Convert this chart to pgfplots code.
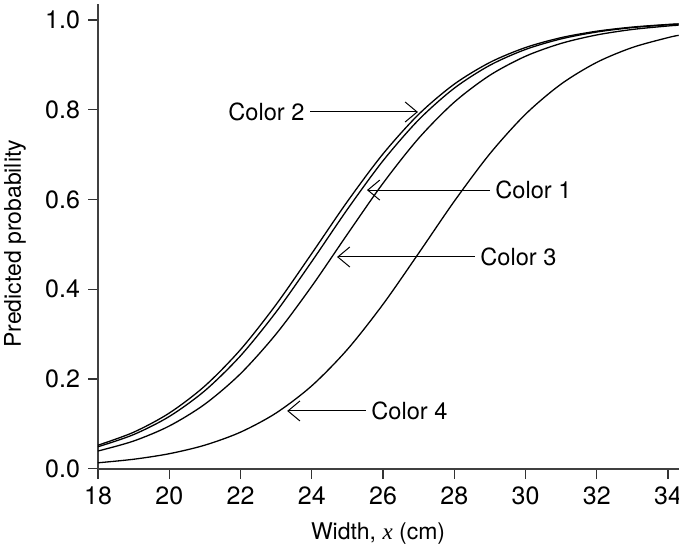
\documentclass[border=0pt]{standalone}
\usepackage{fontspec}
\setmainfont{TeX Gyre Heros}
\newfontfamily\serifit{Liberation Serif}
\usepackage{pgfplots}
\usepackage{pgfplotstable}
\pgfplotsset{compat=1.18}
\usetikzlibrary{arrows.meta}

\pgfplotstableread{
x c1 c2 c3 c4
18 0.04922 0.05270 0.03973 0.01351
19 0.07635 0.08159 0.06198 0.02139
20 0.11660 0.12423 0.09544 0.03373
21 0.17408 0.18467 0.14418 0.05280
22 0.25181 0.26561 0.21198 0.08173
23 0.34956 0.36610 0.30048 0.12444
24 0.46182 0.47976 0.40685 0.18498
25 0.57810 0.59556 0.52273 0.26600
26 0.68633 0.70162 0.63622 0.36656
27 0.77747 0.78968 0.73633 0.48026
28 0.84800 0.85705 0.81683 0.59604
29 0.89908 0.90543 0.87685 0.70203
30 0.93432 0.93860 0.91916 0.79001
31 0.95783 0.96064 0.94780 0.85729
32 0.97317 0.97498 0.96666 0.90559
33 0.98303 0.98419 0.97886 0.93872
34 0.98930 0.99004 0.98665 0.96072
34.3 0.99068 0.99132 0.98834 0.96575
}\crabdata

\begin{document}
\fontsize{11.5}{13.5}\selectfont
\begin{tikzpicture}
\begin{axis}[
  scale only axis,
  width=290.5pt, height=232.5pt,
  xmin=18, xmax=34.31,
  ymin=0, ymax=1.036,
  axis x line=bottom, axis y line=left,
  axis line style={-, line width=0.8pt, black!75},
  xtick={18,20,...,34},
  ytick={0,0.2,0.4,0.6,0.8,1.0},
  tick align=outside,
  major tick length=5pt,
  tick style={line width=0.6pt, black!80},
  minor tick num=0,
  /pgf/number format/assume math mode=true,
  yticklabel style={/pgf/number format/fixed, /pgf/number format/fixed zerofill, /pgf/number format/precision=1, font=\fontsize{12.5}{14}\selectfont},
  xticklabel style={font=\fontsize{12.5}{14}\selectfont},
  every axis y label/.style={at={(axis description cs:-0.143,0.484)}, rotate=90, anchor=center, font=\fontsize{11.5}{13.5}\selectfont},
  every axis x label/.style={at={(axis description cs:0.482,-0.140)}, anchor=center, font=\fontsize{11.5}{13.5}\selectfont},
  xlabel={Width, {\serifit\itshape x} (cm)},
  ylabel={Predicted probability},
  clip=false,
]
\addplot[black, line width=0.65pt, smooth] table[x=x, y=c1] {\crabdata};
\addplot[black, line width=0.65pt, smooth] table[x=x, y=c2] {\crabdata};
\addplot[black, line width=0.65pt, smooth] table[x=x, y=c3] {\crabdata};
\addplot[black, line width=0.65pt, smooth] table[x=x, y=c4] {\crabdata};

\draw[{Straight Barb[length=6pt,width=10pt]}-, line width=0.5pt] (axis cs:26.98,0.795) -- (axis cs:23.95,0.795) node[anchor=east, inner sep=2.5pt, font=\fontsize{11.8}{13.5}\selectfont] {Color 2};
\draw[{Straight Barb[length=6pt,width=10pt]}-, line width=0.5pt] (axis cs:25.55,0.621) -- (axis cs:29.00,0.621) node[anchor=west, inner sep=2.5pt, font=\fontsize{11.8}{13.5}\selectfont] {Color 1};
\draw[{Straight Barb[length=6pt,width=10pt]}-, line width=0.5pt] (axis cs:24.71,0.472) -- (axis cs:28.58,0.472) node[anchor=west, inner sep=2.5pt, font=\fontsize{11.8}{13.5}\selectfont] {Color 3};
\draw[{Straight Barb[length=6pt,width=10pt]}-, line width=0.5pt] (axis cs:23.31,0.129) -- (axis cs:25.52,0.129) node[anchor=west, inner sep=2.5pt, font=\fontsize{11.8}{13.5}\selectfont] {Color 4};

\coordinate (bbsw) at (axis cs:15.249,-0.1826);
\coordinate (bbne) at (axis cs:34.309,1.0445);
\end{axis}
\pgfresetboundingbox
\path[use as bounding box] (bbsw) rectangle (bbne);
\end{tikzpicture}
\end{document}
